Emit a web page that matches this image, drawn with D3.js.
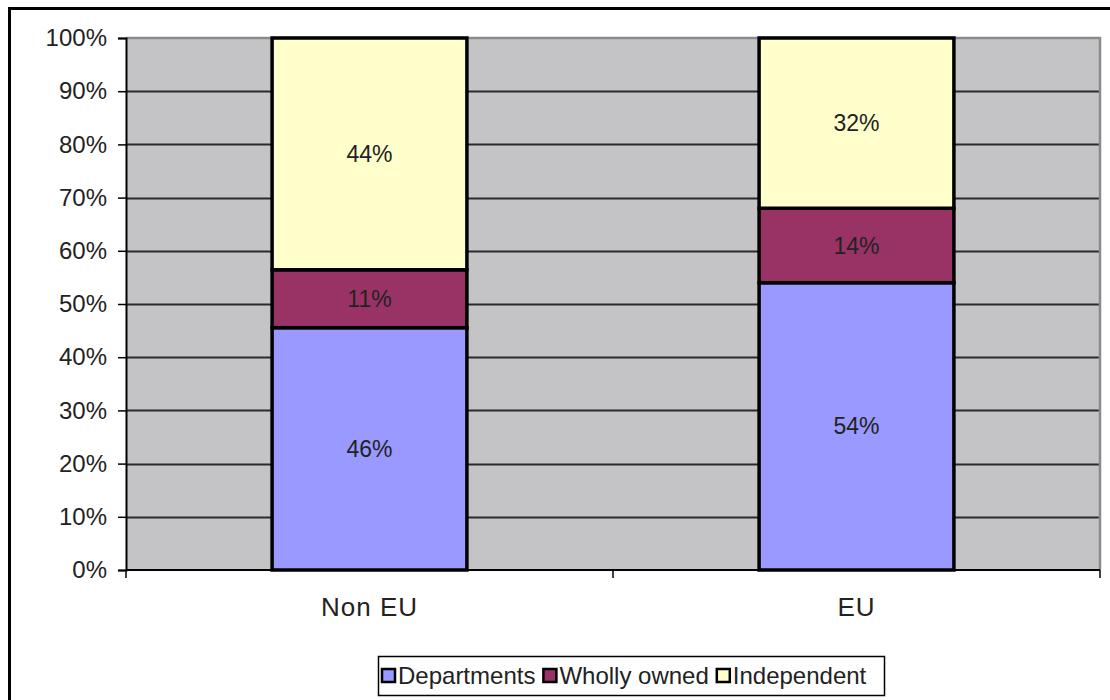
<!DOCTYPE html>
<html>
<head>
<meta charset="utf-8">
<script src="https://cdn.jsdelivr.net/npm/d3@7"></script>
<style>
  html, body { margin: 0; padding: 0; background: #fff; }
  svg { display: block; font-family: "Liberation Sans", Arial, sans-serif; }
</style>
</head>
<body>
<svg id="chart" width="1110" height="700"></svg>
<script>
// Ownership structure by region (100% stacked)
const categories = ["Non EU", "EU"];
const seriesNames = ["Departments", "Wholly owned", "Independent"];
const departments = [46, 54];
const whollyOwned = [11, 14];
const independent = [44, 32];
const seriesColors = ["#9999ff", "#993366", "#ffffcc"];
const yTickValues = [0, 0.1, 0.2, 0.3, 0.4, 0.5, 0.6, 0.7, 0.8, 0.9, 1.0];

const rows = categories.map((c, i) => ({
  category: c,
  "Departments": departments[i],
  "Wholly owned": whollyOwned[i],
  "Independent": independent[i]
}));

const svg = d3.select("#chart");
const plot = { left: 126, right: 1100, top: 38, bottom: 570 };
const textColor = "#222";

// Frame around the whole chart
svg.append("rect")
  .attr("x", 9.5).attr("y", 8.5)
  .attr("width", 1200).attr("height", 800)
  .attr("fill", "none").attr("stroke", "#000").attr("stroke-width", 3);

const x = d3.scaleBand()
  .domain(categories)
  .range([plot.left, plot.right])
  .paddingInner(0.6)
  .paddingOuter(0.3);

const y = d3.scaleLinear()
  .domain([0, 1])
  .range([plot.bottom, plot.top]);

// Plot area background
svg.append("rect")
  .attr("x", plot.left).attr("y", plot.top)
  .attr("width", plot.right - plot.left).attr("height", plot.bottom - plot.top)
  .attr("fill", "#c4c3c6");

// Horizontal gridlines
svg.append("g")
  .selectAll("line")
  .data(yTickValues.filter(v => v > 0 && v < 1))
  .join("line")
  .attr("x1", plot.left).attr("x2", plot.right)
  .attr("y1", d => Math.round(y(d)) + 0.5).attr("y2", d => Math.round(y(d)) + 0.5)
  .attr("stroke", "#2a2a2a").attr("stroke-width", 2);

// Plot border (top and right)
svg.append("path")
  .attr("d", `M${plot.left},${plot.top}H${plot.right}V${plot.bottom}`)
  .attr("fill", "none").attr("stroke", "#8a8a8a").attr("stroke-width", 2.5);

// Stacked bars, normalised to 100%
const stack = d3.stack().keys(seriesNames).offset(d3.stackOffsetExpand);
const layers = stack(rows);

const barGroups = svg.append("g")
  .selectAll("g")
  .data(layers)
  .join("g")
  .attr("fill", (d, i) => seriesColors[i]);

barGroups.selectAll("rect")
  .data(d => d)
  .join("rect")
  .attr("x", d => x(d.data.category))
  .attr("y", d => y(d[1]))
  .attr("width", x.bandwidth())
  .attr("height", d => y(d[0]) - y(d[1]))
  .attr("stroke", "#000")
  .attr("stroke-width", 3.5);

// Data labels
layers.forEach(layer => {
  svg.append("g")
    .selectAll("text")
    .data(layer)
    .join("text")
    .attr("x", d => x(d.data.category) + x.bandwidth() / 2)
    .attr("y", d => (y(d[0]) + y(d[1])) / 2)
    .attr("dy", "0.35em")
    .attr("text-anchor", "middle")
    .attr("font-size", 23)
    .attr("fill", textColor)
    .text(d => d.data[layer.key] + "%");
});

// Y axis
const yAxis = d3.axisLeft(y)
  .tickValues(yTickValues)
  .tickFormat(d3.format(".0%"))
  .tickSize(8)
  .tickPadding(11);

const yG = svg.append("g")
  .attr("transform", `translate(${plot.left},0)`)
  .call(yAxis);
yG.select(".domain").attr("stroke", "#000").attr("stroke-width", 2);
yG.selectAll(".tick line").attr("stroke", "#000").attr("stroke-width", 1.5);
yG.selectAll(".tick text")
  .attr("font-size", 24)
  .attr("font-family", "Liberation Sans, Arial, sans-serif")
  .attr("fill", textColor);

// X axis: ticks at category boundaries
const xG = svg.append("g");
xG.append("line")
  .attr("x1", plot.left).attr("x2", plot.right)
  .attr("y1", plot.bottom).attr("y2", plot.bottom)
  .attr("stroke", "#000").attr("stroke-width", 2);
xG.selectAll("line.tick")
  .data(categories.map((c, i) => i === 0 ? plot.left : x(c) - (x.step() - x.bandwidth()) / 2).concat([plot.right]))
  .join("line")
  .attr("class", "tick")
  .attr("x1", d => d).attr("x2", d => d)
  .attr("y1", plot.bottom).attr("y2", plot.bottom + 8)
  .attr("stroke", "#000").attr("stroke-width", 1.5);
xG.selectAll("text")
  .data(categories)
  .join("text")
  .attr("x", d => x(d) + x.bandwidth() / 2)
  .attr("y", 616)
  .attr("text-anchor", "middle")
  .attr("font-size", 26)
  .attr("letter-spacing", 1)
  .attr("fill", textColor)
  .text(d => d);

// Legend: swatch + label, laid out left to right
const legend = svg.append("g");
legend.append("rect")
  .attr("x", 378.5).attr("y", 656.5)
  .attr("width", 506).attr("height", 39)
  .attr("fill", "#fff").attr("stroke", "#000").attr("stroke-width", 1.5);

let cursor = 382;
seriesNames.forEach((name, i) => {
  const item = legend.append("g").attr("transform", `translate(${cursor},669)`);
  item.append("rect")
    .attr("width", 13).attr("height", 13)
    .attr("fill", seriesColors[i])
    .attr("stroke", "#000").attr("stroke-width", 2.5);
  const label = item.append("text")
    .attr("x", 16).attr("y", 7)
    .attr("dy", "0.35em")
    .attr("font-size", 24)
    .attr("fill", textColor)
    .text(name);
  cursor += 16 + label.node().getComputedTextLength() + 8;
});
</script>
</body>
</html>
